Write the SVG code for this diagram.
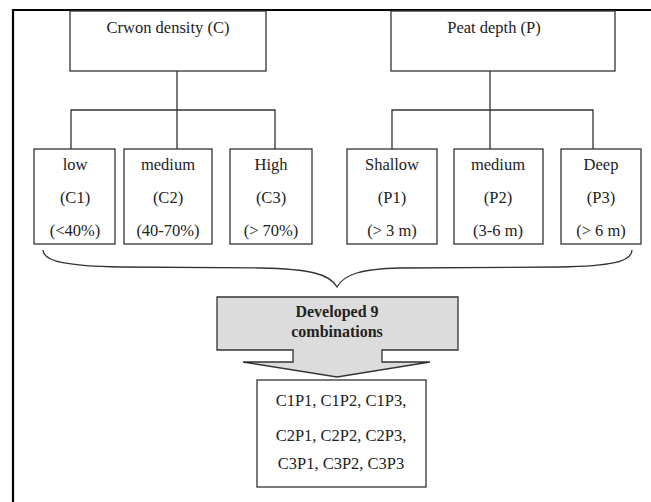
<svg xmlns="http://www.w3.org/2000/svg" width="651" height="502" viewBox="0 0 651 502">
<style>
.box{fill:#fff;stroke:#333;stroke-width:1.3}
.ln{fill:none;stroke:#333;stroke-width:1.3}
.t{font-family:'Liberation Serif','Times New Roman','DejaVu Serif',serif;font-size:16.5px;fill:#222;text-anchor:middle}
.b{font-family:'Liberation Serif','Times New Roman','DejaVu Serif',serif;font-size:16px;font-weight:bold;fill:#222;text-anchor:middle}
</style>
<rect width="651" height="502" fill="#fff"/>
<g id="frame">
<line x1="13" y1="10" x2="651" y2="10" stroke="#000" stroke-width="2.2"/>
<line x1="13" y1="9" x2="13" y2="502" stroke="#000" stroke-width="2.2"/>
</g>
<g id="connectors">
<path class="ln" d="M177,71 V110 M71,149 V110 H275 V149 M177,110 V149"/>
<path class="ln" d="M490,71 V110 M392,149 V110 H593 V149 M490,110 V149"/>
<path class="ln" d="M43,250 C43,262 70,266 120,267 L260,268 C310,269 330,274 337,287 C344,274 362,269 400,268 L560,267 C610,266 632,262 632,250"/>
</g>
<g id="crown">
<rect class="box" x="70" y="11" width="196" height="60"/>
<text class="t" x="168" y="33">Crwon density (C)</text>
</g>
<g id="peat">
<rect class="box" x="391" y="11" width="224" height="60"/>
<text class="t" x="494" y="33">Peat depth  (P)</text>
</g>
<g id="c1">
<rect class="box" x="34" y="149" width="81" height="95"/>
<text class="t" x="75" y="170">low</text>
<text class="t" x="75" y="203">(C1)</text>
<text class="t" x="75" y="236">(&lt;40%)</text>
</g>
<g id="c2">
<rect class="box" x="124" y="149" width="88" height="95"/>
<text class="t" x="168" y="170">medium</text>
<text class="t" x="168" y="203">(C2)</text>
<text class="t" x="168" y="236">(40-70%)</text>
</g>
<g id="c3">
<rect class="box" x="230" y="149" width="82" height="95"/>
<text class="t" x="271" y="170">High</text>
<text class="t" x="271" y="203">(C3)</text>
<text class="t" x="271" y="236">(&gt; 70%)</text>
</g>
<g id="p1">
<rect class="box" x="347" y="149" width="90" height="95"/>
<text class="t" x="392" y="170">Shallow</text>
<text class="t" x="392" y="203">(P1)</text>
<text class="t" x="392" y="236">(&gt; 3 m)</text>
</g>
<g id="p2">
<rect class="box" x="454" y="149" width="89" height="95"/>
<text class="t" x="498" y="170">medium</text>
<text class="t" x="498" y="203">(P2)</text>
<text class="t" x="498" y="236">(3-6 m)</text>
</g>
<g id="p3">
<rect class="box" x="561" y="149" width="80" height="95"/>
<text class="t" x="601" y="170">Deep</text>
<text class="t" x="601" y="203">(P3)</text>
<text class="t" x="601" y="236">(&gt; 6 m)</text>
</g>
<g id="developed">
<path d="M217,297 H458 V350 H382 V362 H430 L337,377 L243,362 H293 V350 H217 Z" fill="#dcdcdc" stroke="#333" stroke-width="1.3" stroke-linejoin="miter"/>
<text class="b" x="337" y="317">Developed 9</text>
<text class="b" x="337" y="337">combinations</text>
</g>
<g id="combinations">
<rect class="box" x="257" y="380" width="169" height="107"/>
<text class="t" x="341" y="406">C1P1, C1P2, C1P3,</text>
<text class="t" x="341" y="441">C2P1, C2P2, C2P3,</text>
<text class="t" x="341" y="469">C3P1, C3P2, C3P3</text>
</g>
</svg>
